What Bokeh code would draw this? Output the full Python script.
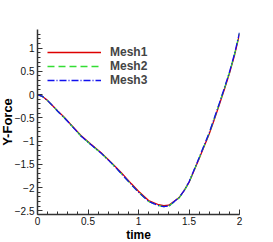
from bokeh.plotting import figure
from bokeh.models import Range1d, Legend, LegendItem, FixedTicker, Title
from bokeh.embed import file_html
from bokeh.resources import INLINE

# data
time = [0.0, 0.05, 0.1, 0.15, 0.2, 0.27, 0.35, 0.43, 0.53, 0.63, 0.73, 0.83, 0.93,
        1.0, 1.1, 1.2, 1.25, 1.3, 1.4, 1.45, 1.5, 1.6, 1.7, 1.75, 1.8, 1.85, 1.9, 1.95, 2.0]
mesh1 = [0.0, -0.04, -0.13, -0.24, -0.35, -0.50, -0.69, -0.88, -1.07, -1.25, -1.46, -1.68, -1.92,
         -2.08, -2.28, -2.37, -2.39, -2.38, -2.22, -2.07, -1.89, -1.38, -0.85, -0.54, -0.22, 0.11, 0.45, 0.84, 1.30]
mesh2 = [0.0, -0.04, -0.13, -0.24, -0.36, -0.51, -0.70, -0.89, -1.08, -1.26, -1.47, -1.70, -1.94,
         -2.10, -2.30, -2.39, -2.41, -2.40, -2.23, -2.08, -1.89, -1.37, -0.83, -0.52, -0.20, 0.13, 0.47, 0.86, 1.32]
mesh3 = [0.0, -0.04, -0.13, -0.24, -0.36, -0.51, -0.70, -0.89, -1.08, -1.26, -1.47, -1.70, -1.94,
         -2.10, -2.30, -2.39, -2.41, -2.40, -2.22, -2.07, -1.88, -1.36, -0.82, -0.51, -0.19, 0.14, 0.48, 0.87, 1.33]
series_names = ["Mesh1", "Mesh2", "Mesh3"]
x_label = "time"
y_label = "Y-Force"
x_ticks = [0, 0.5, 1, 1.5, 2]
y_ticks = [-2.5, -2, -1.5, -1, -0.5, 0, 0.5, 1]
x_minor = [i / 10 for i in range(0, 21)]
y_minor = [i / 10 for i in range(-25, 14)]

p = figure(width=273, height=242, output_backend="svg", toolbar_location=None,
           x_range=Range1d(0, 2), y_range=Range1d(-2.58, 1.4),
           min_border_left=36, min_border_right=34, min_border_top=29, min_border_bottom=28)
p.outline_line_color = None
p.grid.visible = False
p.background_fill_color = "white"
p.border_fill_color = "white"

p.xaxis[0].ticker = FixedTicker(ticks=x_ticks, minor_ticks=x_minor)
p.yaxis[0].ticker = FixedTicker(ticks=y_ticks, minor_ticks=y_minor)

for ax in (p.xaxis[0], p.yaxis[0]):
    ax.axis_line_color = "#333333"
    ax.axis_line_width = 1.5
    ax.major_tick_in = 5
    ax.major_tick_out = 0
    ax.minor_tick_in = 3
    ax.minor_tick_out = 0
    ax.major_tick_line_color = "#333333"
    ax.minor_tick_line_color = "#333333"
    ax.major_label_text_font = "Liberation Sans"
    ax.major_label_text_font_size = "10px"
    ax.major_label_text_color = "#111111"

p.xaxis.major_label_standoff = 2
p.yaxis.major_label_standoff = 3

r1 = p.line(time, mesh1, line_color="#dd0000", line_width=1.3)
r2 = p.line(time, mesh2, line_color="#33dd33", line_width=1.3, line_dash="7 4")
r3 = p.line(time, mesh3, line_color="#1010ee", line_width=1.3, line_dash="7 2 1 2")

legend = Legend(items=[LegendItem(label=series_names[0], renderers=[r1]),
                       LegendItem(label=series_names[1], renderers=[r2]),
                       LegendItem(label=series_names[2], renderers=[r3])],
                location=(10, 127), glyph_width=54, glyph_height=14, label_height=14,
                spacing=0, padding=0, margin=0, label_standoff=9,
                label_text_font="Liberation Sans", label_text_font_style="bold",
                label_text_font_size="12px", border_line_color=None,
                background_fill_alpha=0)
p.add_layout(legend, "center")

p.add_layout(Title(text=x_label, align="center", standoff=-3, offset=0,
                   text_font="Liberation Sans", text_font_style="bold",
                   text_font_size="12px", text_color="black"), "below")
p.add_layout(Title(text=y_label, align="center", standoff=-6, offset=0,
                   text_font="Liberation Sans", text_font_style="bold",
                   text_font_size="13px", text_color="black"), "left")

open("out.html", "w").write(file_html(p, INLINE))
